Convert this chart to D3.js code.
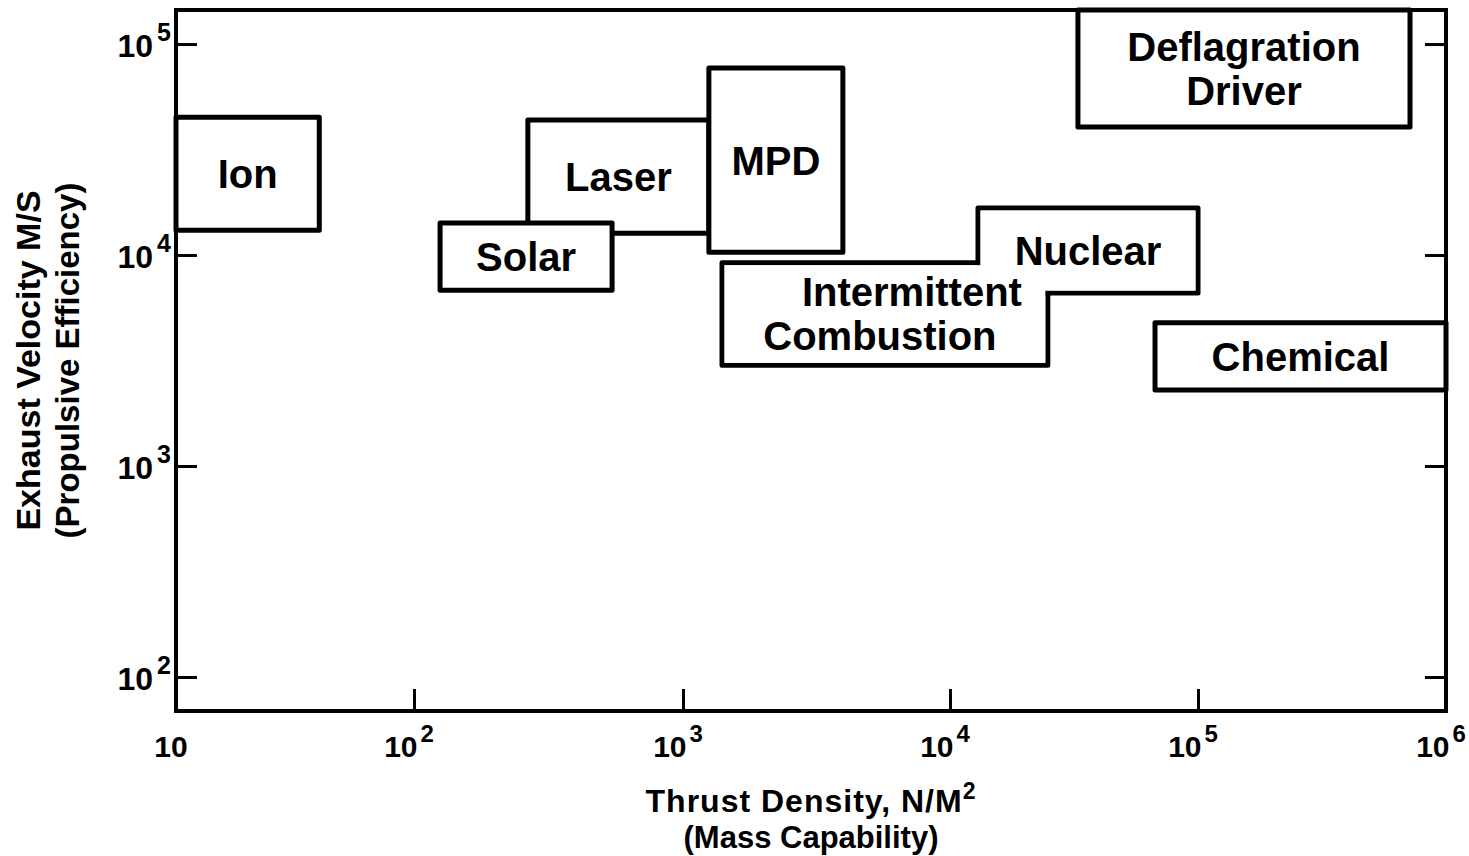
<!DOCTYPE html>
<meta charset="utf-8">
<style>

body { margin: 0; background: #fff; }
text {
  font-family: "Liberation Sans", Arial, Helvetica, sans-serif;
  font-weight: bold;
  fill: #000;
}
.axis .domain { display: none; }
.axis line { stroke: #000; stroke-width: 3; }

</style>
<svg width="1469" height="856"></svg>
<script src="https://d3js.org/d3.v7.min.js"></script>
<script>

// thrust density (N/m^2) and exhaust velocity (m/s) ranges of each propulsion type
var names    = ["Laser", "Solar", "MPD", "Ion", "Intermittent\nCombustion", "Nuclear", "Chemical", "Deflagration\nDriver"];
var thrustLo = [265, 125, 1250, 10, 1400, 12970, 67100, 32800];
var thrustHi = [1250, 545, 3970, 40, 24800, 100000, 1e6, 716000];
var velLo    = [12700, 6800, 10300, 13100, 3000, 6600, 2290, 40400];
var velHi    = [43700, 14200, 77000, 45000, 9200, 16700, 4770, 145000];
// boxes that share a group number are drawn as one merged outline
var groups   = [0, 1, 2, 3, 4, 4, 5, 6];

var xTicks   = [10, 1e2, 1e3, 1e4, 1e5, 1e6];
var xTickSup = ["", "2", "3", "4", "5", "6"];
var yTicks   = [1e2, 1e3, 1e4, 1e5];
var yTickSup = ["2", "3", "4", "5"];
var yDomain  = [69, 145000];

var svg = d3.select("svg");

// the printed decades are not quite equal in width, so the log scale is piecewise
var x = d3.scaleLog().domain(xTicks).range([176, 414, 683, 950, 1198, 1446]);
var y = d3.scaleLog().domain(yDomain).range([711, 10]);

var xMin = xTicks[0], xMax = xTicks[xTicks.length - 1];
var boxW = 5;

var boxes = names.map(function(n, i) {
  return {name: n, x0: thrustLo[i], x1: thrustHi[i], y0: velLo[i], y1: velHi[i], group: groups[i]};
});

// ticks (inward) on left, right and bottom
svg.append("g")
    .attr("class", "axis")
    .attr("transform", "translate(" + x(xMin) + ",0)")
    .call(d3.axisLeft(y).tickValues(yTicks).tickSize(-21).tickFormat(""));

svg.append("g")
    .attr("class", "axis")
    .attr("transform", "translate(" + x(xMax) + ",0)")
    .call(d3.axisRight(y).tickValues(yTicks).tickSize(-21).tickFormat(""));

svg.append("g")
    .attr("class", "axis")
    .attr("transform", "translate(0," + y(yDomain[0]) + ")")
    .call(d3.axisBottom(x).tickValues(xTicks.slice(1, -1)).tickSize(-22).tickFormat(""));

// boxes, group by group: outline first, then a slightly inset white fill
var groupIds = Array.from(new Set(groups));
groupIds.forEach(function(gid) {
  var members = boxes.filter(function(b) { return b.group === gid; });
  var g = svg.append("g").attr("class", "box");
  g.selectAll("rect.edge")
    .data(members)
    .enter().append("rect")
      .attr("class", "edge")
      .attr("x", function(d) { return x(d.x0); })
      .attr("y", function(d) { return y(d.y1); })
      .attr("width", function(d) { return x(d.x1) - x(d.x0); })
      .attr("height", function(d) { return y(d.y0) - y(d.y1); })
      .attr("fill", "#fff")
      .attr("stroke", "#000")
      .attr("stroke-width", boxW)
      .attr("stroke-linejoin", "round");
  if (members.length > 1) {
    g.selectAll("rect.fill")
      .data(members)
      .enter().append("rect")
        .attr("class", "fill")
        .attr("x", function(d) { return x(d.x0) + boxW / 2; })
        .attr("y", function(d) { return y(d.y1) + boxW / 2; })
        .attr("width", function(d) { return x(d.x1) - x(d.x0) - boxW; })
        .attr("height", function(d) { return y(d.y0) - y(d.y1) - boxW; })
        .attr("fill", "#fff");
  }
});

// labels in the middle of each box
var nudge = {"Intermittent": 27, "Combustion": -5};
var lineH = 44;
boxes.forEach(function(b) {
  var lines = b.name.split("\n");
  var cx = (x(b.x0) + x(b.x1)) / 2,
      cy = (y(b.y0) + y(b.y1)) / 2;
  svg.append("g").selectAll("text")
    .data(lines)
    .enter().append("text")
      .attr("x", function(d) { return cx + (nudge[d] || 0); })
      .attr("y", function(d, i) { return cy + (i - (lines.length - 1) / 2) * lineH; })
      .attr("dy", "0.36em")
      .attr("text-anchor", "middle")
      .style("font-size", "40px")
      .text(function(d) { return d; });
});

// plot frame
svg.append("rect")
    .attr("x", x(xMin))
    .attr("y", y(yDomain[1]))
    .attr("width", x(xMax) - x(xMin))
    .attr("height", y(yDomain[0]) - y(yDomain[1]))
    .attr("fill", "none")
    .attr("stroke", "#000")
    .attr("stroke-width", 4);

// tick labels, powers of ten
var xl = svg.append("g").selectAll("text")
  .data(xTicks)
  .enter().append("text")
    .attr("x", function(d) { return x(d) - 5; })
    .attr("y", y(yDomain[0]) + 46)
    .attr("text-anchor", "middle")
    .style("font-size", "30px");
xl.append("tspan").text("10");
xl.append("tspan")
    .attr("dx", 3)
    .attr("dy", -15)
    .style("font-size", "24px")
    .text(function(d, i) { return xTickSup[i]; });

var yl = svg.append("g").selectAll("text")
  .data(yTicks)
  .enter().append("text")
    .attr("x", x(xMin) - 5)
    .attr("y", function(d) { return y(d) + 13; })
    .attr("text-anchor", "end")
    .style("font-size", "32px");
yl.append("tspan").text("10");
yl.append("tspan")
    .attr("dx", 4)
    .attr("dy", -16)
    .style("font-size", "25px")
    .text(function(d, i) { return yTickSup[i]; });

// axis titles
var xt = svg.append("text")
    .attr("x", (x(xMin) + x(xMax)) / 2)
    .attr("y", 812)
    .attr("text-anchor", "middle")
    .style("font-size", "32px")
    .style("letter-spacing", "1px");
xt.append("tspan").text("Thrust Density, N/M");
xt.append("tspan").attr("dy", -13).style("font-size", "23px").text("2");

svg.append("text")
    .attr("x", (x(xMin) + x(xMax)) / 2)
    .attr("y", 848)
    .attr("text-anchor", "middle")
    .style("font-size", "31px")
    .text("(Mass Capability)");

var yMid = (y(yDomain[0]) + y(yDomain[1])) / 2;
svg.append("text")
    .attr("transform", "translate(40," + yMid + ") rotate(-90)")
    .attr("text-anchor", "middle")
    .style("font-size", "34px")
    .text("Exhaust Velocity M/S");

svg.append("text")
    .attr("transform", "translate(79," + yMid + ") rotate(-90)")
    .attr("text-anchor", "middle")
    .style("font-size", "33px")
    .text("(Propulsive Efficiency)");

</script>
